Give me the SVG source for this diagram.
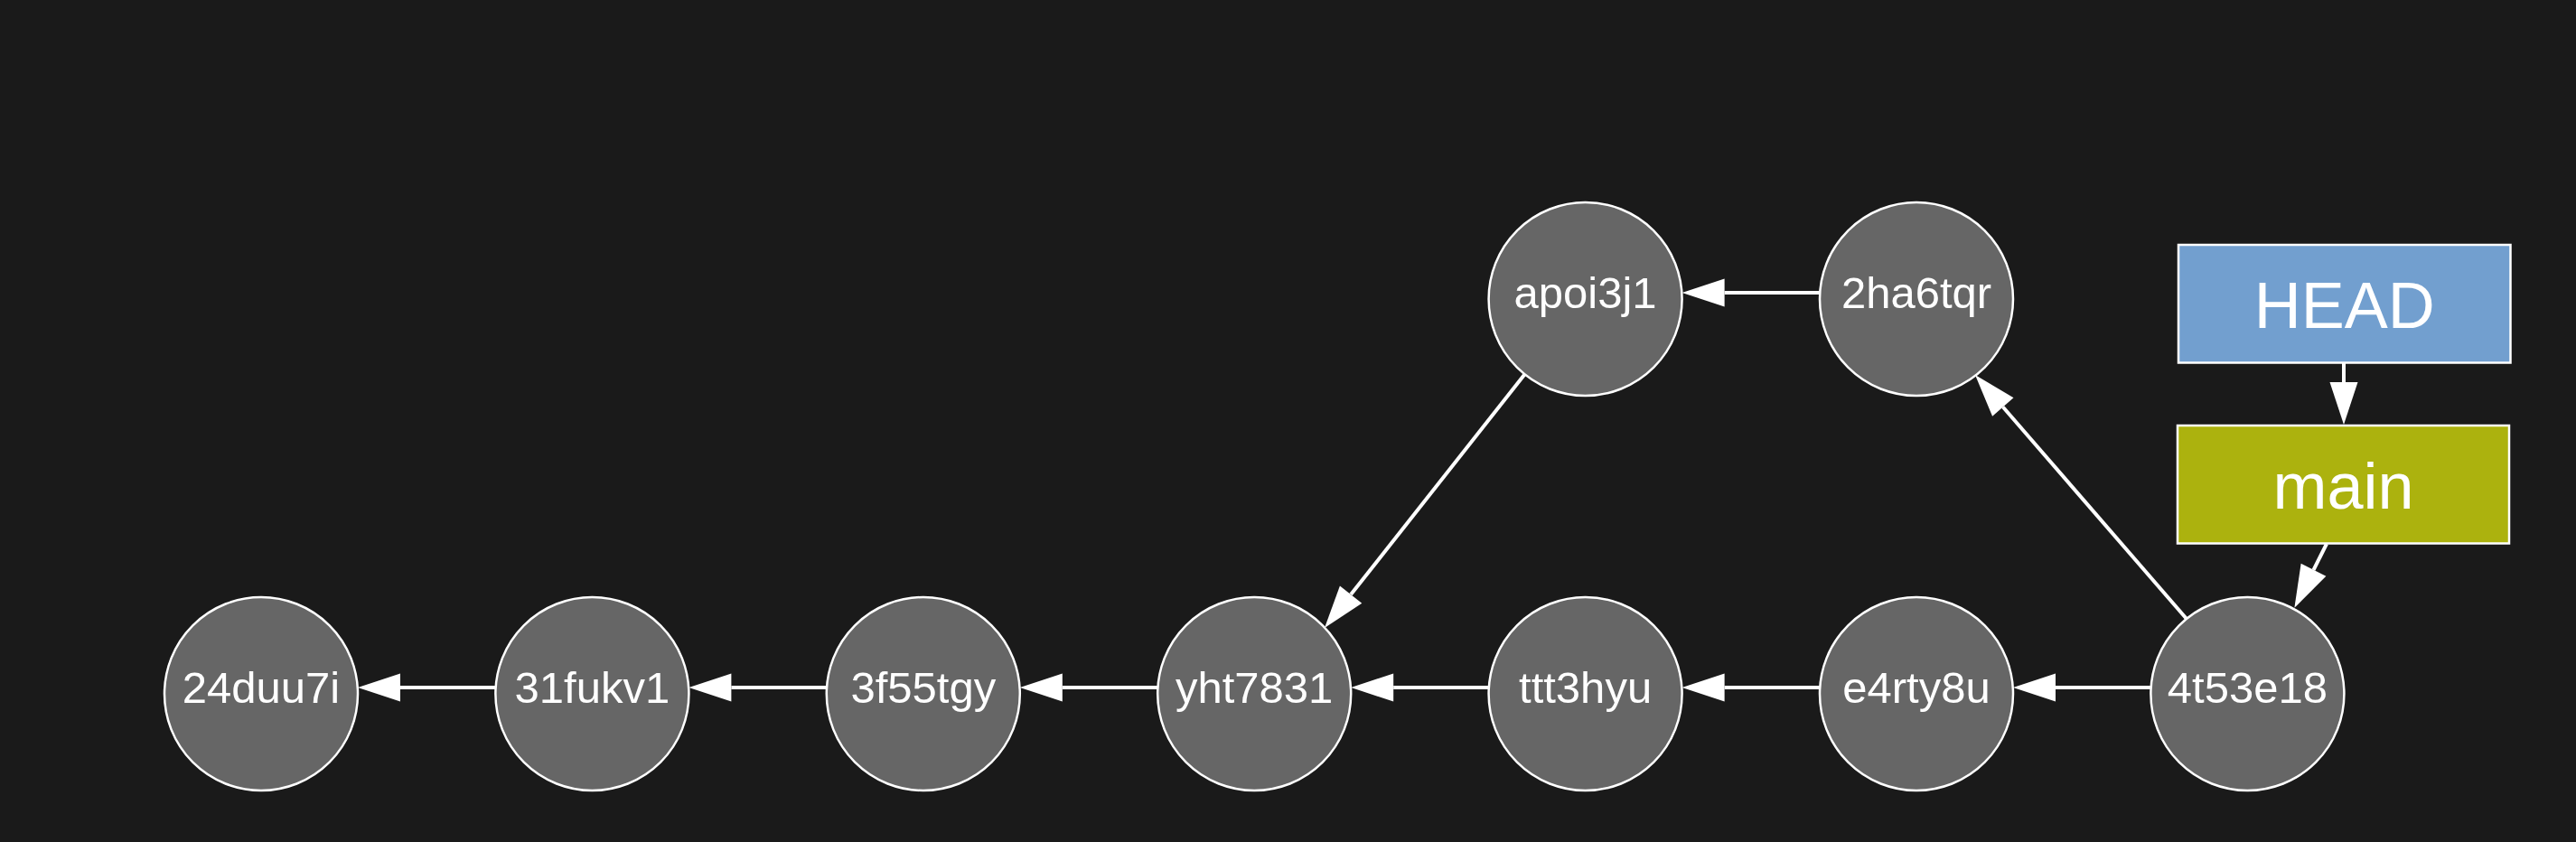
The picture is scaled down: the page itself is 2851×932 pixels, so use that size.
<svg xmlns="http://www.w3.org/2000/svg" width="2851" height="932" viewBox="0 0 2851 932">
<style>
.commit circle{fill:#666666;stroke:#ffffff;stroke-width:2.5}
.commit text{fill:#ffffff;font-family:"Liberation Sans",Arial,sans-serif;font-size:49px;text-anchor:middle}
.ref text{fill:#ffffff;font-family:"Liberation Sans",Arial,sans-serif;font-size:72px;text-anchor:middle}
.ref rect{stroke:#ffffff;stroke-width:2.5}
#connectors line{stroke:#ffffff;stroke-width:4;fill:none;marker-end:url(#arrow)}
</style>
<defs>
<marker id="arrow" markerUnits="userSpaceOnUse" markerWidth="50" markerHeight="34" viewBox="0 -17 50 34" refX="0" refY="0" orient="auto" overflow="visible">
<path d="M0,-15.5 L47,0 L0,15.5 Z" fill="#ffffff"/>
</marker>
</defs>
<rect x="0" y="0" width="2851" height="932" fill="#1a1a1a"/>
<g id="connectors">
<line x1="548.4" y1="761" x2="443" y2="761"/>
<line x1="914.8" y1="761" x2="809.4" y2="761"/>
<line x1="1281.2" y1="761" x2="1175.8" y2="761"/>
<line x1="1647.6" y1="761" x2="1542.2" y2="761"/>
<line x1="2014" y1="761" x2="1908.6" y2="761"/>
<line x1="2380.4" y1="761" x2="2275" y2="761"/>
<line x1="2014" y1="324" x2="1908.6" y2="324"/>
<line x1="1688.3" y1="413.3" x2="1495.1" y2="658.1"/>
<line x1="2420" y1="685" x2="2216.8" y2="450.5"/>
<line x1="2594" y1="401.7" x2="2594" y2="423"/>
<line x1="2575" y1="602" x2="2560.5" y2="630.8"/>
</g>
<g id="n24duu7i" class="commit"><circle cx="289" cy="768" r="107"/><text x="289" y="778">24duu7i</text></g>
<g id="n31fukv1" class="commit"><circle cx="655.4" cy="768" r="107"/><text x="655.4" y="778">31fukv1</text></g>
<g id="n3f55tgy" class="commit"><circle cx="1021.8" cy="768" r="107"/><text x="1021.8" y="778">3f55tgy</text></g>
<g id="nyht7831" class="commit"><circle cx="1388.2" cy="768" r="107"/><text x="1388.2" y="778">yht7831</text></g>
<g id="nttt3hyu" class="commit"><circle cx="1754.6" cy="768" r="107"/><text x="1754.6" y="778">ttt3hyu</text></g>
<g id="ne4rty8u" class="commit"><circle cx="2121" cy="768" r="107"/><text x="2121" y="778">e4rty8u</text></g>
<g id="n4t53e18" class="commit"><circle cx="2487.4" cy="768" r="107"/><text x="2487.4" y="778">4t53e18</text></g>
<g id="napoi3j1" class="commit"><circle cx="1754.6" cy="331" r="107"/><text x="1754.6" y="341">apoi3j1</text></g>
<g id="n2ha6tqr" class="commit"><circle cx="2121" cy="331" r="107"/><text x="2121" y="341">2ha6tqr</text></g>
<g id="HEAD" class="ref"><rect x="2411" y="271" width="367.5" height="130.5" fill="#729fcf"/><text x="2594.7" y="363">HEAD</text></g>
<g id="main" class="ref"><rect x="2410" y="471" width="367" height="130.5" fill="#acb20e"/><text x="2593.5" y="563">main</text></g>
</svg>
